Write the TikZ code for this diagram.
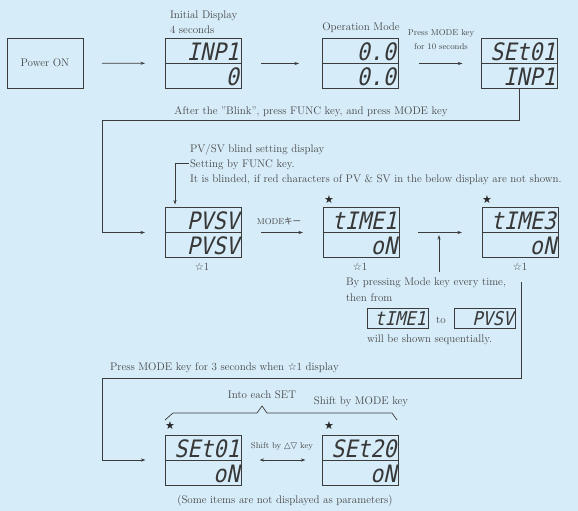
\documentclass[tikz,border=0pt]{standalone}
\usepackage{fontspec}
\newfontfamily\lcdfont[FakeSlant=0.22,FakeStretch=0.9]{DejaVu Sans Mono}
\newfontfamily\dvsym{DejaVu Sans}
\newfontfamily\cjk{Noto Sans CJK JP}
\usetikzlibrary{arrows.meta,calc}
\definecolor{bg}{RGB}{214,236,249}
\definecolor{ln}{RGB}{60,60,60}
\definecolor{tx}{RGB}{70,70,70}
\newcommand\mkdisp[5]{%
  \node[box] (#1) at (#2,#3) {};
  \draw[draw=ln, line width=0.8pt] (#1.west) -- (#1.east);
  \node[lcdt] at ($(#1.east)+(-2,-3)$) {#4};
  \node[lcdt] at ($(#1.east)+(-2,22)$) {#5};
}
\begin{document}
\begin{tikzpicture}[x=1pt,y=-1pt,
  every node/.style={inner sep=0pt, outer sep=0pt},
  lbl/.style={text=tx, font=\fontsize{11}{15}\selectfont},
  sm/.style={text=tx, font=\fontsize{8.5}{14}\selectfont},
  star/.style={text=black!85, font=\dvsym\fontsize{11}{12}\selectfont},
  box/.style={draw=ln, line width=0.8pt, minimum width=76pt, minimum height=50pt},
  smallbox/.style={draw=ln, line width=0.8pt, minimum width=61pt, minimum height=20pt},
  lcdt/.style={text=black!78, font=\lcdfont\fontsize{24}{24}\selectfont, anchor=base east},
  lcds/.style={text=black!78, font=\lcdfont\fontsize{19}{19}\selectfont, anchor=base east},
  arr/.style={draw=ln, line width=0.7pt, -{Stealth[length=4.5pt,width=3pt]}},
  darr/.style={draw=ln, line width=0.7pt, {Stealth[length=4.5pt,width=3pt]}-{Stealth[length=4.5pt,width=3pt]}},
  wire/.style={draw=ln, line width=0.7pt},
]
\useasboundingbox (0,0) rectangle (578,511);
\fill[bg] (0,0) rectangle (578,511);

% top row
\node[box, lbl] (power) at (45,63) {Power ON};
\mkdisp{init}{203}{63.5}{INP1}{0}
\mkdisp{op}{360}{63.5}{0.0}{0.0}
\mkdisp{set0}{519.5}{63.5}{SEt01}{INP1}

\node[lbl, anchor=west, align=left] (initlbl) at (170,22) {Initial Display\\4 seconds};
\node[lbl] (oplbl) at (361,28) {Operation Mode};
\node[sm, align=center] (presslbl) at (441,40) {Press MODE key\\for 10 seconds};

\draw[arr, shorten <=19pt, shorten >=20pt] (power) -- (init);
\draw[arr, shorten <=20pt, shorten >=23pt] (init) -- (op);
\draw[arr, shorten <=21pt, shorten >=19pt] (op) -- (set0);

% second row
\mkdisp{pvsv}{203}{232.5}{PVSV}{PVSV}
\mkdisp{time1}{361}{232.5}{tIME1}{oN}
\mkdisp{time3}{520}{232.5}{tIME3}{oN}

\coordinate (c1) at (102,120);
\draw[arr] (set0.south) |- (c1) |- ([xshift=-20pt]pvsv.west);
\node[lbl] (blinklbl) at (311,112) {After the "Blink", press FUNC key, and press MODE key};

\coordinate (n1) at (189,163);
\draw[arr, shorten >=3pt] (n1) -| ([xshift=-28pt]pvsv.north);
\node[lbl, anchor=west, align=left] (note) at (190,164) {PV/SV blind setting display\\Setting by FUNC key.\\It is blinded, if red characters of PV \& SV in the below display are not shown.};

\draw[arr, shorten <=20pt, shorten >=20pt] (pvsv) -- (time1);
\node[sm] (modekey) at (279,221) {MODE{\cjk キー}};
\draw[arr, shorten <=19pt, shorten >=20pt] (time1) -- (time3);
\coordinate (c2) at (439,272);
\coordinate (c3) at (439,235);
\draw[arr] (c2) -- (c3);

\node[star] (st1) at (329,200) {★};
\node[star] (st2) at (487,200) {★};
\node[lbl] (w1) at (202,267) {{\dvsym\fontsize{10}{12}\selectfont ☆}1};
\node[lbl] (w2) at (360,267) {{\dvsym\fontsize{10}{12}\selectfont ☆}1};
\node[lbl] (w3) at (520,267) {{\dvsym\fontsize{10}{12}\selectfont ☆}1};

\node[lbl, anchor=west] (by1) at (346,283) {By pressing Mode key every time,};
\node[lbl, anchor=west] (by2) at (346,298) {then from};
\node[smallbox] (sb1) at (397.5,318) {};
\node[lcds] at ($(sb1.east)+(-2,7)$) {tIME1};
\node[lbl] (to) at (441,320) {to};
\node[smallbox] (sb2) at (485,318) {};
\node[lcds] at ($(sb2.east)+(-2,7)$) {PVSV};
\node[lbl, anchor=west] (by3) at (367,340) {will be shown sequentially.};

% third row
\mkdisp{setA}{203.5}{460}{SEt01}{oN}
\mkdisp{setB}{360.5}{460}{SEt20}{oN}
\node[star] (st3) at (170,426) {★};
\node[star] (st4) at (329,426) {★};

\coordinate (c4) at (521,282);
\coordinate (c5) at (102,378);
\draw[arr] (c4) |- (c5) |- ([xshift=-20pt]setA.west);
\node[lbl, anchor=west] (p3) at (110,368) {Press MODE key for 3 seconds when {\dvsym\fontsize{10}{12}\selectfont ☆}1 display};

\draw[wire] (165,420) -- (173,413) -- (257,413) -- (262,406) -- (267,413) -- (392,413) -- (397,420);
\node[lbl] (into) at (262,395) {Into each SET};
\node[lbl] (shiftm) at (361,402) {Shift by MODE key};
\node[sm] (shiftk) at (282,446) {Shift by {\dvsym △▽} key};
\draw[darr, shorten <=18pt, shorten >=17pt] (setA) -- (setB);
\node[lbl] (some) at (285,501) {(Some items are not displayed as parameters)};
\end{tikzpicture}
\end{document}
